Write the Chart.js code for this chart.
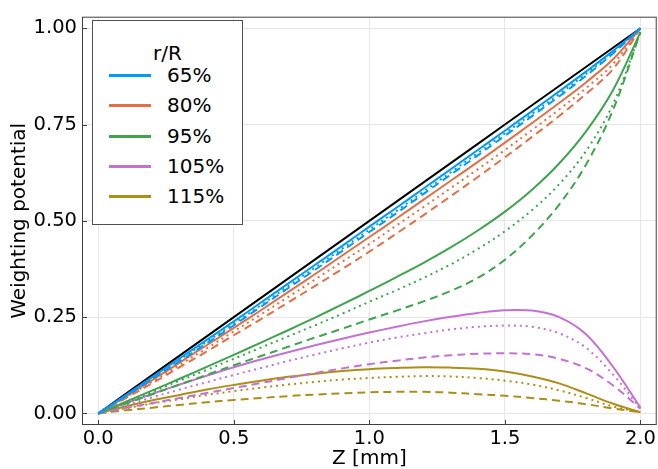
<!DOCTYPE html>
<html>
<head>
<meta charset="utf-8">
<script src="https://cdn.jsdelivr.net/npm/chart.js@4/dist/chart.umd.min.js"></script>
<style>
  html, body { margin: 0; padding: 0; background: #fff; }
  #wrap { position: relative; width: 658px; height: 469px; }
  #legend { position: absolute; left: 92px; top: 20px; width: 149px; height: 203px;
    border: 1px solid #505050; background: #fff; font-family: "DejaVu Sans", sans-serif; color: #000; }
  #legend .title { position: absolute; left: 0; width: 100%; top: 32px; text-align: center; font-size: 20px; line-height: 20px; margin-top:-10px; }
  #legend .item { position: absolute; left: 0; height: 20px; font-size: 20px; line-height: 20px; }
  #legend .sw { position: absolute; left: 16px; top: 9px; width: 42px; height: 3px; }
  #legend .lbl { position: absolute; left: 74px; top: 0; white-space: nowrap; }
</style>
</head>
<body>
<div id="wrap">
  <canvas id="c" width="658" height="469"></canvas>
  <div id="legend"></div>
</div>
<script>
// ---- data ----
const zValues = [0, 0.1, 0.2, 0.3, 0.4, 0.5, 0.6, 0.7, 0.8, 0.9, 1.0,
                 1.1, 1.2, 1.3, 1.4, 1.5, 1.6, 1.7, 1.8, 1.9, 2.0];
const diagonal = [0, 0.05, 0.1, 0.15, 0.2, 0.25, 0.3, 0.35, 0.4, 0.45, 0.5,
                  0.55, 0.6, 0.65, 0.7, 0.75, 0.8, 0.85, 0.9, 0.95, 1.0];

const r65Solid  = [0, 0.047, 0.095, 0.143, 0.191, 0.239, 0.288, 0.337, 0.386, 0.435, 0.485,
                   0.534, 0.584, 0.634, 0.684, 0.734, 0.785, 0.836, 0.888, 0.942, 1.0];
const r65Dotted = [0, 0.045, 0.092, 0.139, 0.186, 0.233, 0.281, 0.330, 0.379, 0.428, 0.477,
                   0.526, 0.576, 0.626, 0.676, 0.727, 0.778, 0.829, 0.882, 0.938, 1.0];
const r65Dashed = [0, 0.044, 0.090, 0.136, 0.182, 0.229, 0.277, 0.325, 0.373, 0.422, 0.471,
                   0.520, 0.570, 0.620, 0.670, 0.721, 0.772, 0.823, 0.877, 0.935, 1.0];

const r80Solid  = [0, 0.043, 0.087, 0.132, 0.177, 0.222, 0.268, 0.315, 0.362, 0.410, 0.458,
                   0.506, 0.555, 0.604, 0.653, 0.703, 0.754, 0.806, 0.860, 0.920, 1.0];
const r80Dotted = [0, 0.041, 0.083, 0.126, 0.169, 0.213, 0.257, 0.302, 0.348, 0.394, 0.440,
                   0.488, 0.536, 0.585, 0.634, 0.684, 0.736, 0.789, 0.845, 0.908, 1.0];
const r80Dashed = [0, 0.039, 0.079, 0.120, 0.161, 0.203, 0.245, 0.288, 0.331, 0.375, 0.420,
                   0.467, 0.515, 0.564, 0.614, 0.665, 0.718, 0.772, 0.830, 0.895, 1.0];

const r95Solid  = [0, 0.030, 0.060, 0.090, 0.121, 0.152, 0.184, 0.216, 0.249, 0.283, 0.318,
                   0.354, 0.391, 0.431, 0.475, 0.524, 0.581, 0.649, 0.733, 0.841, 0.99];
const r95Dotted = [0, 0.028, 0.056, 0.085, 0.113, 0.142, 0.171, 0.200, 0.229, 0.259, 0.290,
                   0.320, 0.352, 0.387, 0.427, 0.473, 0.528, 0.595, 0.682, 0.805, 0.99];
const r95Dashed = [0, 0.025, 0.050, 0.075, 0.100, 0.125, 0.149, 0.173, 0.197, 0.220, 0.244,
                   0.267, 0.291, 0.318, 0.352, 0.399, 0.462, 0.542, 0.647, 0.790, 0.99];

const r105Solid  = [0, 0.026, 0.051, 0.075, 0.098, 0.120, 0.140, 0.159, 0.177, 0.194, 0.210,
                    0.225, 0.239, 0.251, 0.261, 0.268, 0.267, 0.250, 0.205, 0.120, 0.015];
const r105Dotted = [0, 0.021, 0.042, 0.062, 0.081, 0.100, 0.118, 0.136, 0.153, 0.169, 0.184,
                    0.197, 0.208, 0.218, 0.225, 0.228, 0.225, 0.208, 0.170, 0.100, 0.012];
const r105Dashed = [0, 0.014, 0.027, 0.040, 0.053, 0.066, 0.079, 0.092, 0.105, 0.117, 0.128,
                    0.137, 0.145, 0.151, 0.155, 0.156, 0.154, 0.142, 0.117, 0.072, 0.012];

const r115Solid  = [0, 0.018, 0.034, 0.048, 0.062, 0.074, 0.085, 0.095, 0.103, 0.110, 0.115,
                    0.118, 0.120, 0.119, 0.116, 0.109, 0.096, 0.078, 0.052, 0.025, 0.003];
const r115Dotted = [0, 0.013, 0.026, 0.037, 0.048, 0.058, 0.067, 0.075, 0.082, 0.088, 0.092,
                    0.095, 0.097, 0.096, 0.092, 0.085, 0.075, 0.060, 0.040, 0.018, 0.003];
const r115Dashed = [0, 0.008, 0.015, 0.022, 0.029, 0.035, 0.040, 0.045, 0.049, 0.052, 0.055,
                    0.056, 0.056, 0.054, 0.050, 0.046, 0.040, 0.033, 0.024, 0.013, 0.003];

const seriesLabels = ["65%", "80%", "95%", "105%", "115%"];
const seriesColors = ["#009AFA", "#E36F47", "#3EA44E", "#C371D2", "#AC8E18"];
const xTickValues = [0, 0.5, 1.0, 1.5, 2.0];
const yTickValues = [0, 0.25, 0.5, 0.75, 1.0];

// ---- build datasets ----
const groups = [
  [r65Solid, r65Dotted, r65Dashed],
  [r80Solid, r80Dotted, r80Dashed],
  [r95Solid, r95Dotted, r95Dashed],
  [r105Solid, r105Dotted, r105Dashed],
  [r115Solid, r115Dotted, r115Dashed]
];
const dashes = [[], [2, 4], [8, 5]];
const toPts = arr => arr.map((v, i) => ({ x: zValues[i], y: v }));
const datasets = [];
groups.forEach((g, gi) => {
  g.forEach((arr, k) => {
    datasets.push({
      label: seriesLabels[gi] + ["", " dotted", " dashed"][k],
      data: toPts(arr),
      borderColor: seriesColors[gi],
      borderWidth: 2,
      borderDash: dashes[k],
      pointRadius: 0,
      fill: false,
      tension: 0.35
    });
  });
});
datasets.push({
  label: "diagonal", data: toPts(diagonal), borderColor: "#000000", borderWidth: 2,
  pointRadius: 0, fill: false, tension: 0
});

const FONT = "'DejaVu Sans', sans-serif";

const framePlugin = {
  id: 'frame',
  afterDraw(chart) {
    const { ctx, chartArea: a, scales } = chart;
    ctx.save();
    ctx.strokeStyle = '#404040';
    ctx.lineWidth = 1;
    ctx.beginPath();
    yTickValues.forEach(v => {
      const y = Math.round(scales.y.getPixelForValue(v)) + 0.5;
      ctx.moveTo(a.left, y); ctx.lineTo(a.left + 5, y);
    });
    xTickValues.forEach(v => {
      const x = Math.round(scales.x.getPixelForValue(v)) + 0.5;
      ctx.moveTo(x, a.bottom); ctx.lineTo(x, a.bottom - 5);
    });
    ctx.stroke();
    ctx.strokeRect(a.left + 0.5, a.top + 0.5, a.right - a.left - 1, a.bottom - a.top - 1);
    ctx.restore();
  }
};

new Chart(document.getElementById('c'), {
  type: 'line',
  data: { datasets },
  options: {
    responsive: false,
    animation: false,
    layout: { padding: { left: 0, right: 1, top: 10, bottom: 0 } },
    plugins: { legend: { display: false }, tooltip: { enabled: false } },
    scales: {
      x: {
        type: 'linear', min: -0.06, max: 2.06,
        afterBuildTicks: s => { s.ticks = xTickValues.map(v => ({ value: v })); },
        afterFit: s => { s.height = 44; },
        ticks: { color: '#000', font: { family: FONT, size: 19.5 }, padding: 2,
                 maxRotation: 0, callback: v => Number(v).toFixed(1) },
        grid: { color: '#e6e6e6', lineWidth: 1, drawTicks: false },
        border: { display: false },
        title: { display: true, text: 'Z [mm]', color: '#000',
                 font: { family: FONT, size: 20, lineHeight: 1 }, padding: { top: 0, bottom: 0 } }
      },
      y: {
        type: 'linear', min: -0.03, max: 1.03,
        afterBuildTicks: s => { s.ticks = yTickValues.map(v => ({ value: v })); },
        afterFit: s => { s.width = 82; },
        ticks: { color: '#000', font: { family: FONT, size: 19.5 }, padding: 5,
                 callback: v => Number(v).toFixed(2) },
        grid: { color: '#e6e6e6', lineWidth: 1, drawTicks: false },
        border: { display: false },
        title: { display: true, text: 'Weighting potential', color: '#000',
                 font: { family: FONT, size: 20, lineHeight: 1 }, padding: { top: 10, bottom: 0 } }
      }
    }
  },
  plugins: [framePlugin]
});

// ---- legend (HTML overlay) ----
const leg = document.getElementById('legend');
const t = document.createElement('div');
t.className = 'title'; t.textContent = 'r/R';
leg.appendChild(t);
seriesLabels.forEach((lab, i) => {
  const it = document.createElement('div');
  it.className = 'item';
  it.style.top = (44 + i * 30.3) + 'px';
  it.style.width = '100%';
  const sw = document.createElement('div');
  sw.className = 'sw'; sw.style.background = seriesColors[i];
  const tx = document.createElement('div');
  tx.className = 'lbl'; tx.textContent = lab;
  it.appendChild(sw); it.appendChild(tx);
  leg.appendChild(it);
});
</script>
</body>
</html>
